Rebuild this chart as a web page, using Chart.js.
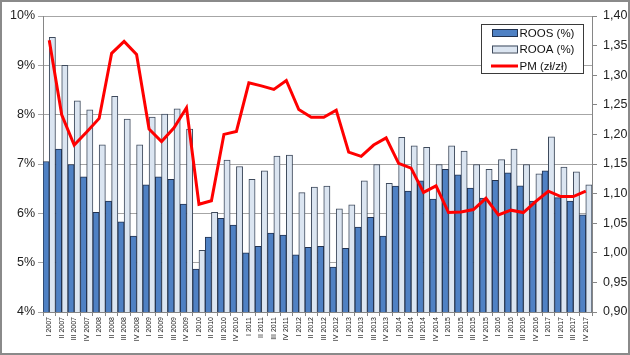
<!DOCTYPE html>
<html>
<head>
<meta charset="utf-8">
<script src="https://cdn.jsdelivr.net/npm/chart.js@4"></script>
<style>
html,body{margin:0;padding:0;background:#fff;}
canvas{display:block;}
</style>
</head>
<body>
<canvas id="c" width="630" height="355"></canvas>
<script>
const categories = [
 "I 2007","II 2007","III 2007","IV 2007",
 "I 2008","II 2008","III 2008","IV 2008",
 "I 2009","II 2009","III 2009","IV 2009",
 "I 2010","II 2010","III 2010","IV 2010",
 "I 2011","II 2011","III 2011","IV 2011",
 "I 2012","II 2012","III 2012","IV 2012",
 "I 2013","II 2013","III 2013","IV 2013",
 "I 2014","II 2014","III 2014","IV 2014",
 "I 2015","II 2015","III 2015","IV 2015",
 "I 2016","II 2016","III 2016","IV 2016",
 "I 2017","II 2017","III 2017","IV 2017"
];
const roos = [7.05,7.30,6.99,6.74,6.02,6.25,5.83,5.54,6.58,6.74,6.69,6.19,
 4.87,5.52,5.90,5.76,5.20,5.33,5.60,5.56,5.16,5.31,5.33,4.91,
 5.29,5.72,5.92,5.54,6.55,6.45,6.66,6.29,6.89,6.78,6.51,6.31,
 6.67,6.82,6.56,6.25,6.86,6.32,6.25,5.97];
const rooa = [9.57,9.00,8.28,8.10,7.39,8.37,7.91,7.39,7.95,8.01,8.12,7.71,
 5.25,6.02,7.08,6.95,6.69,6.86,7.16,7.18,6.42,6.53,6.55,6.09,
 6.17,6.66,6.99,6.61,7.54,7.37,7.34,6.99,7.37,7.26,6.99,6.89,
 7.09,7.30,6.99,6.80,7.55,6.94,6.84,6.58];
const pm = [1.359,1.233,1.182,1.204,1.227,1.337,1.357,1.335,1.209,1.188,1.211,1.245,
 1.082,1.088,1.200,1.205,1.287,1.282,1.276,1.291,1.242,1.229,1.229,1.241,
 1.170,1.163,1.182,1.194,1.151,1.143,1.102,1.113,1.068,1.069,1.073,1.092,
 1.064,1.072,1.068,1.087,1.104,1.095,1.095,1.104];
const seriesNames = ["ROOS (%)","ROOA (%)","PM (zł/zł)"];
const leftTicks = {min:4, max:10, step:1};
const rightTicks = {min:0.90, max:1.40, step:0.05};

const C_DARK = '#4f81c4', C_DARK_B = '#22324f';
const C_LIGHT = '#dbe5f1', C_LIGHT_B = '#3e4a5c';
const C_RED = '#ff0000';
const FONT = "'Liberation Sans', Arial, sans-serif";

const frameAndLegend = {
  id: 'frameAndLegend',
  afterDraw(chart) {
    const ctx = chart.ctx;
    ctx.save();
    // legend box
    const lx = 481, ly = 24, lw = 102, lh = 49;
    ctx.fillStyle = '#fff';
    ctx.fillRect(lx, ly, lw, lh);
    ctx.strokeStyle = '#3a3a3a';
    ctx.lineWidth = 1;
    ctx.strokeRect(lx + 0.5, ly + 0.5, lw, lh);
    const rows = [33, 49.5, 66];
    ctx.font = "11.5px " + FONT;
    ctx.textBaseline = 'middle';
    ctx.textAlign = 'left';
    // ROOS swatch
    ctx.fillStyle = C_DARK; ctx.fillRect(492, rows[0]-4, 26, 7);
    ctx.strokeStyle = C_DARK_B; ctx.strokeRect(492.5, rows[0]-3.5, 25, 7);
    // ROOA swatch
    ctx.fillStyle = C_LIGHT; ctx.fillRect(492, rows[1]-4, 26, 7);
    ctx.strokeStyle = C_LIGHT_B; ctx.strokeRect(492.5, rows[1]-3.5, 25, 7);
    // PM swatch
    ctx.strokeStyle = C_RED; ctx.lineWidth = 3;
    ctx.beginPath(); ctx.moveTo(491, rows[2]); ctx.lineTo(518, rows[2]); ctx.stroke();
    ctx.fillStyle = '#111';
    seriesNames.forEach((n,i)=>ctx.fillText(n, 519.5, rows[i]+0.5));
    // outer frame
    ctx.strokeStyle = '#8a8a8a';
    ctx.lineWidth = 2;
    ctx.strokeRect(1, 1, 628, 353);
    ctx.restore();
  }
};

new Chart(document.getElementById('c'), {
  data: {
    labels: categories,
    datasets: [
      {type:'line', label: seriesNames[2], data: pm, yAxisID:'y1', borderColor: C_RED,
       borderWidth: 3, pointRadius: 0, tension: 0, order: 0, fill:false},
      {type:'bar', label: seriesNames[0], data: roos, yAxisID:'y', backgroundColor: C_DARK,
       borderColor: C_DARK_B, borderWidth: 1, order: 1, categoryPercentage: 1, barPercentage: 1},
      {type:'bar', label: seriesNames[1], data: rooa, yAxisID:'y', backgroundColor: C_LIGHT,
       borderColor: C_LIGHT_B, borderWidth: 1, order: 1, categoryPercentage: 1, barPercentage: 1}
    ]
  },
  options: {
    responsive: false,
    devicePixelRatio: 1,
    animation: false,
    layout: {padding: {top: 16, left: 0, right: 0, bottom: 0}},
    plugins: {legend: {display: false}, tooltip: {enabled: false}},
    scales: {
      x: {
        offset: true,
        grid: {offset: true, drawOnChartArea: false, drawTicks: true, tickLength: 4, color: '#868686'},
        border: {color: '#868686'},
        ticks: {autoSkip: false, minRotation: 90, maxRotation: 90, padding: 1,
                font: {family: FONT, size: 7}, color: '#222'},
        afterFit(s){ s.height = 43; }
      },
      y: {
        position: 'left',
        min: leftTicks.min, max: leftTicks.max,
        ticks: {stepSize: leftTicks.step, padding: 3, callback: v => v + '%',
                font: {family: FONT, size: 12.5}, color: '#222'},
        grid: {color: '#a6a6a6', tickLength: 5},
        border: {color: '#868686'},
        afterFit(s){ s.width = 43; }
      },
      y1: {
        position: 'right',
        min: rightTicks.min, max: rightTicks.max,
        ticks: {stepSize: rightTicks.step, padding: 6,
                callback: v => Number(v).toFixed(2).replace('.', ','),
                font: {family: FONT, size: 12.5}, color: '#222'},
        grid: {drawOnChartArea: false, tickLength: 5, color: '#868686'},
        border: {color: '#868686'},
        afterFit(s){ s.width = 38; }
      }
    }
  },
  plugins: [frameAndLegend]
});
</script>
</body>
</html>
